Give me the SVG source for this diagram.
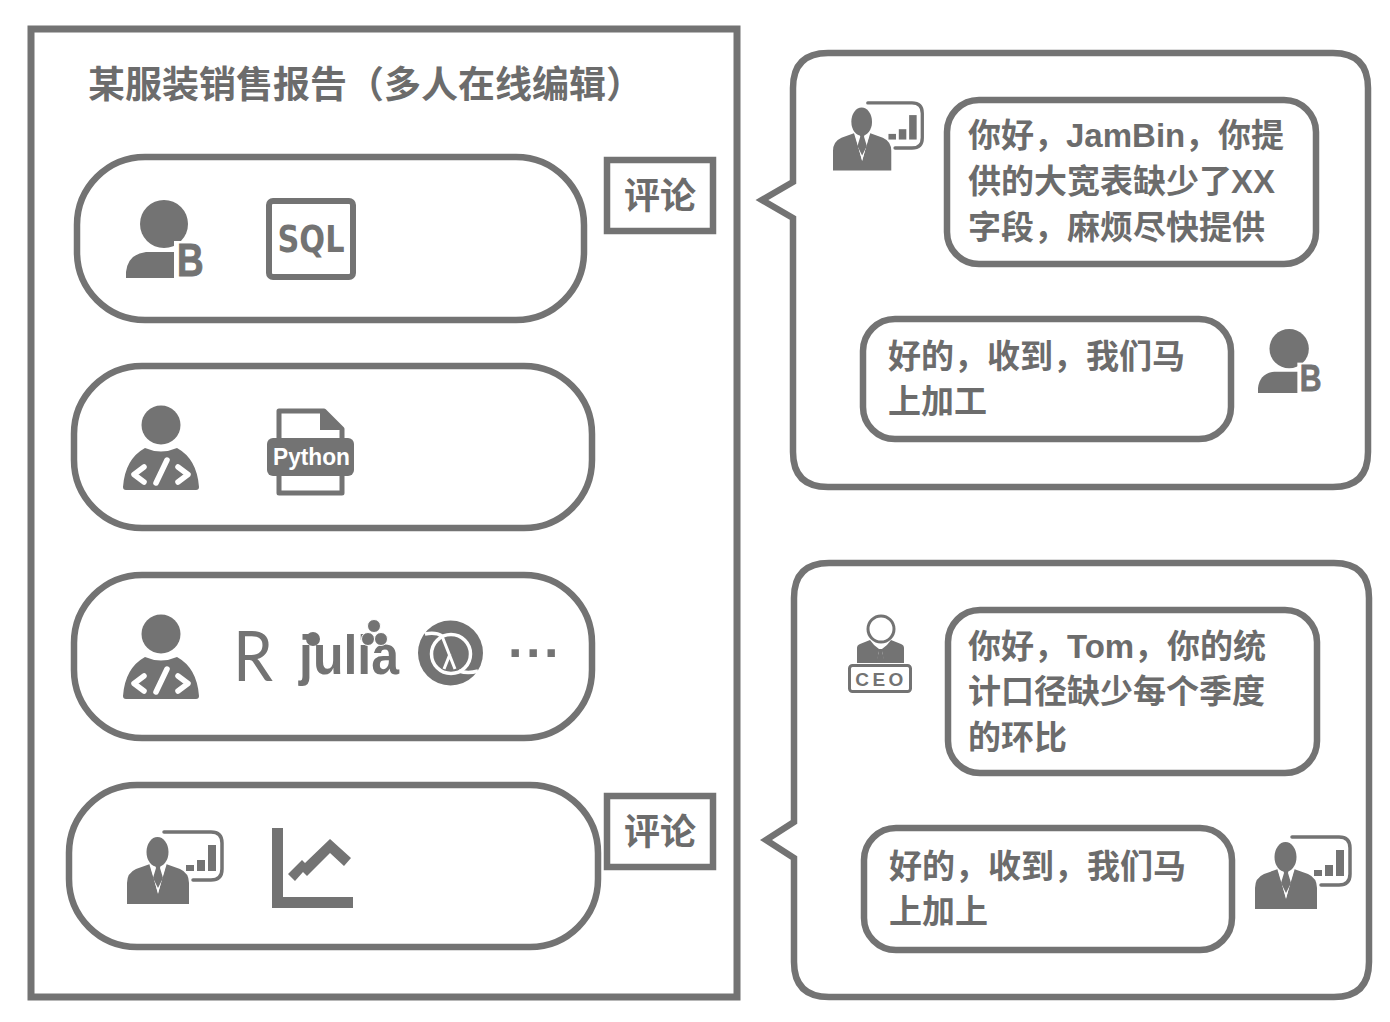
<svg xmlns="http://www.w3.org/2000/svg" width="1390" height="1022" viewBox="0 0 1390 1022">
<style>
.box{fill:#fff;stroke:#737373;stroke-width:6.500}
.t{font-family:"Noto Sans CJK SC","Liberation Sans",sans-serif;font-weight:700;fill:#6c6c6c}
.l{font-family:"Liberation Sans",sans-serif;font-weight:700}
.b33{font-size:33px}
.c36{font-size:36px}
.i{fill:#737373}
.ic{font-family:"Liberation Sans",sans-serif;font-weight:700;fill:#737373}
</style>
<defs>
<g id="presenter">
<path class="i" d="M0 74V53Q0 43 9 39L23 34L31 64L39 34L53 39Q62 43 62 53V74Z"/>
<path fill="#fff" d="M22 33L31 63L40 33L37 31H25Z"/>
<path class="i" d="M28 34H34L33 38L36 48L31 58L26 48L29 38Z"/>
<ellipse cx="30.500" cy="22" rx="11" ry="15" class="i"/>
<path d="M37 2H84Q95 2 95 13V39Q95 50 84 50H66" fill="none" stroke="#737373" stroke-width="3.500" stroke-linecap="round"/>
<rect class="i" x="59" y="35" width="8" height="6"/><rect class="i" x="70" y="30" width="8" height="11"/><rect class="i" x="81" y="15" width="8" height="26"/>
</g>
<g id="userb">
<circle cx="38" cy="24" r="24" class="i"/>
<rect x="48" y="41" width="32" height="40" fill="#fff"/>
<path class="i" d="M0 78V72Q2 54 20 52H48V78Z"/>
<text class="ic" transform="translate(51 75.500) scale(.8 1)" font-size="46" stroke="#737373" stroke-width="1">B</text>
</g>
<g id="coder">
<circle cx="38" cy="20" r="19.500" class="i"/>
<path class="i" d="M22 43Q38 50 54 43Q74 54 76 82Q76 85 73 85H3Q0 85 0 82Q2 54 22 43Z"/>
<path d="M21 62L11 69.500L21 77M55 62L65 69.500L55 77M44 55L33 78" fill="none" stroke="#fff" stroke-width="5.500" stroke-linecap="round" stroke-linejoin="round"/>
</g>
</defs>
<rect width="1390" height="1022" fill="#fff"/>
<g id="report">
<rect class="box" x="31" y="29" width="706" height="968" style="stroke-width:7"/>
<text class="t" font-size="37" x="88" y="98">某服装销售报告（多人在线编辑）</text>
</g>
<g id="row-1">
<rect class="box" x="77" y="157" width="507" height="163" rx="68"/>
<use href="#userb" x="126" y="200"/>
<rect x="269" y="201" width="84" height="76" rx="4" fill="#fff" stroke="#737373" stroke-width="6"/>
<text class="ic" x="311" y="252" font-size="38" text-anchor="middle" textLength="67" lengthAdjust="spacingAndGlyphs" style="font-family:'DejaVu Sans',sans-serif">SQL</text>
</g>
<g id="row-2">
<rect class="box" x="74" y="366" width="518" height="162" rx="68"/>
<use href="#coder" x="123" y="405"/>
<path d="M279 411H324L342 429V493H279Z" fill="#fff" stroke="#737373" stroke-width="5" stroke-linejoin="round"/>
<path class="i" d="M320 411H325L343 429V430H320Z"/>
<rect class="i" x="267" y="438" width="87" height="38" rx="6"/>
<text x="311.500" y="465" font-size="24" text-anchor="middle" textLength="77" lengthAdjust="spacingAndGlyphs" fill="#fff" class="l">Python</text>
</g>
<g id="row-3">
<rect class="box" x="74" y="575" width="518" height="163" rx="68"/>
<use href="#coder" x="123" y="614"/>
<text x="233" y="681" font-size="70" fill="#737373" textLength="40" lengthAdjust="spacingAndGlyphs" style="font-family:'Lato','Liberation Sans',sans-serif">R</text>
<text x="299" y="674" font-size="55" fill="#737373" textLength="100" lengthAdjust="spacingAndGlyphs" class="l">julia</text>
<circle cx="313" cy="639" r="7" class="i"/>
<g class="i" stroke="#fff" stroke-width="1"><circle cx="374" cy="626" r="6.500"/><circle cx="368" cy="639" r="6.500"/><circle cx="381" cy="639" r="6.500"/></g>
<circle cx="450.500" cy="653" r="32.500" class="i"/>
<g fill="none" stroke="#fff" stroke-width="3.500">
<path d="M425 634Q436 632 442 636"/>
<circle cx="451" cy="654" r="19.500"/>
<path d="M459 671Q468 674 478 671"/>
<path d="M442 636L455 669M450 654L444 669" stroke-width="3"/>
</g>
<text class="ic" x="508" y="657" font-size="52" letter-spacing="3.600">...</text>
</g>
<g id="row-4">
<rect class="box" x="69" y="785" width="529" height="162" rx="68"/>
<use href="#presenter" x="127" y="830"/>
<path class="i" d="M272 828H283V897H353V908H272Z"/>
<path class="i" d="M288 874L302 860L305 863L330 839L351 858L344 866L330 853L307 876L303 872L295 881Z"/>
</g>
<g id="comment-1">
<rect class="box" x="607" y="160" width="106" height="71"/>
<text class="t c36" x="624" y="209">评论</text>
</g>
<g id="comment-2">
<rect class="box" x="607" y="796" width="106" height="71"/>
<text class="t c36" x="624" y="845">评论</text>
</g>
<g id="chat-1">
<path class="box" d="M828 53H1333Q1368 53 1368 88V452Q1368 487 1333 487H828Q793 487 793 452V218L762 200L793 182V88Q793 53 828 53Z"/>
<use href="#presenter" transform="translate(833 101) scale(.94)"/>
<rect class="box" x="947" y="100" width="369" height="164" rx="32"/>
<text class="t b33" x="968" y="147">你好，<tspan class="l" x="1066">JamBin</tspan><tspan x="1185">，</tspan><tspan x="1218">你提</tspan></text>
<text class="t b33" x="968" y="193">供的大宽表缺少了<tspan class="l" x="1231">XX</tspan></text>
<text class="t b33" x="968" y="239">字段，麻烦尽快提供</text>
<rect class="box" x="863" y="319" width="368" height="120" rx="32"/>
<text class="t b33" x="888" y="368">好的，收到，我们马</text>
<text class="t b33" x="888" y="413">上加工</text>
<use href="#userb" transform="translate(1258 329) scale(.82)"/>
</g>
<g id="chat-2">
<path class="box" d="M829 563H1334Q1369 563 1369 598V962Q1369 997 1334 997H829Q794 997 794 962V858L766 840L794 822V598Q794 563 829 563Z"/>
<g transform="translate(848 615)">
<circle cx="33" cy="14" r="13" fill="none" stroke="#737373" stroke-width="3"/>
<path class="i" d="M9 48V33Q9 30 12 29L22 25Q26 31 31 34L29 48ZM56 48V33Q56 30 53 29L43 25Q39 31 34 34L36 48Z"/>
<path class="i" d="M29.500 34H35.500L34.500 38L37 48H28L30.500 38Z"/>
<rect x="1.500" y="50.500" width="61" height="26" rx="3" fill="#fff" stroke="#737373" stroke-width="3"/>
<text x="33" y="70.500" font-size="19" text-anchor="middle" letter-spacing="3.500" fill="#737373" class="l">CEO</text>
</g>
<rect class="box" x="948" y="610" width="369" height="163" rx="32"/>
<text class="t b33" x="968" y="658">你好，<tspan class="l" x="1067">Tom</tspan><tspan x="1134">，</tspan><tspan x="1167">你的统</tspan></text>
<text class="t b33" x="968" y="703">计口径缺少每个季度</text>
<text class="t b33" x="968" y="749">的环比</text>
<rect class="box" x="864" y="828" width="368" height="122" rx="32"/>
<text class="t b33" x="889" y="878">好的，收到，我们马</text>
<text class="t b33" x="889" y="923">上加上</text>
<use href="#presenter" x="1255" y="835"/>
</g>
<g id="connectors"/>
</svg>
